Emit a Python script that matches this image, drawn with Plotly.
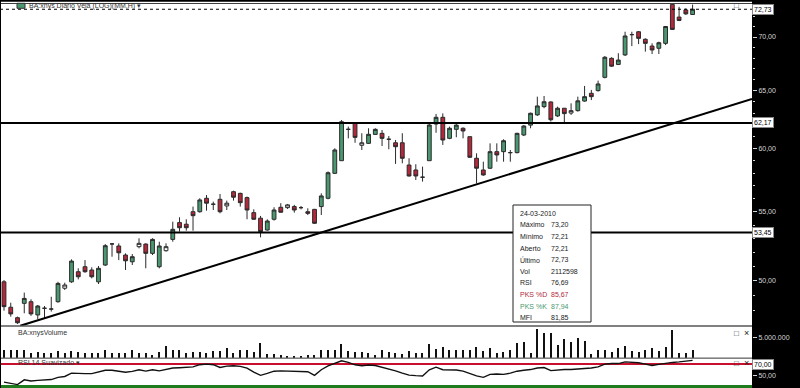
import math
import pandas as pd
import plotly.graph_objects as go

# ---------------- data ----------------
open_ = [49.94, 48.22, 47.53, 48.48, 48.59, 47.71, 48.15, 48.10, 48.59, 49.50,
         49.94, 50.64, 50.99, 50.76, 49.94, 51.11, 52.62, 52.47, 51.82, 51.34,
         52.42, 52.61, 51.94, 50.99, 52.13, 52.95, 54.19, 54.07, 55.01, 55.01,
         56.04, 55.58, 55.96, 55.45, 56.55, 56.42, 56.09, 54.94, 54.52, 53.64,
         54.44, 55.35, 55.32, 55.40, 55.32, 55.01, 55.19, 55.40, 56.04, 58.00,
         59.02, 61.63, 62.14, 60.29, 60.45, 61.20, 61.29, 60.79, 60.50, 60.50,
         58.67, 58.27, 57.69, 59.02, 62.08, 62.66, 60.87, 61.63, 61.72, 61.01,
         59.22, 58.27, 58.41, 59.76, 59.76, 59.68, 59.68, 61.15, 61.99, 62.87,
         63.59, 64.00, 62.78, 63.45, 63.03, 63.24, 64.08, 64.77, 65.01, 66.21,
         67.97, 67.40, 68.29, 70.23, 70.51, 69.78, 69.13, 68.92, 69.39, 73.22,
         71.95, 72.66, 72.21]
high = [50.06, 48.52, 47.60, 49.20, 48.75, 48.37, 48.30, 48.92, 49.94, 49.88,
        51.51, 50.88, 51.46, 50.95, 51.04, 52.61, 52.66, 52.66, 51.94, 51.89,
        53.03, 52.66, 53.03, 52.78, 52.66, 54.26, 54.59, 54.44, 55.40, 56.04,
        56.29, 55.78, 56.37, 55.86, 56.63, 56.47, 56.17, 55.19, 54.69, 54.44,
        55.35, 55.66, 55.60, 55.53, 55.45, 55.27, 55.22, 56.42, 58.15, 60.04,
        62.43, 61.86, 62.20, 61.30, 61.72, 61.72, 61.57, 61.06, 60.73, 61.30,
        59.22, 58.73, 58.54, 62.14, 62.95, 63.00, 61.86, 62.08, 61.80, 61.01,
        59.62, 58.94, 60.45, 60.45, 60.79, 59.90, 61.34, 61.99, 63.07, 64.47,
        64.53, 64.05, 63.59, 63.47, 63.88, 64.47, 65.43, 65.07, 65.91, 68.19,
        68.07, 68.45, 70.51, 70.51, 70.58, 69.87, 69.39, 69.55, 71.02, 73.25,
        72.97, 72.82, 73.20]
low = [47.99, 47.60, 47.12, 47.82, 47.65, 47.43, 47.50, 47.93, 48.52, 49.38,
       49.87, 50.11, 50.57, 50.18, 49.79, 51.04, 51.70, 51.46, 50.76, 51.11,
       52.30, 50.88, 51.82, 50.88, 52.06, 52.78, 53.52, 53.59, 53.59, 54.94,
       55.09, 55.14, 54.89, 55.14, 55.86, 55.40, 54.44, 54.39, 53.10, 53.59,
       54.34, 54.94, 55.22, 54.94, 55.19, 54.76, 54.09, 54.76, 55.96, 57.95,
       59.00, 60.87, 60.50, 59.90, 60.40, 61.15, 60.23, 59.96, 58.76, 58.81,
       57.74, 57.47, 57.34, 59.02, 61.34, 60.32, 60.80, 60.96, 60.87, 59.24,
       57.20, 57.81, 58.35, 58.94, 58.94, 58.94, 59.62, 61.06, 61.72, 62.78,
       63.45, 62.30, 62.69, 62.08, 62.87, 63.15, 64.02, 64.17, 64.92, 66.12,
       67.18, 67.34, 68.19, 69.13, 69.32, 68.60, 68.38, 68.38, 69.23, 70.68,
       71.55, 72.17, 72.21]
close = [48.26, 47.78, 47.20, 48.81, 47.78, 48.30, 48.15, 48.10, 49.83, 49.72,
         51.39, 50.29, 50.64, 50.29, 50.88, 52.49, 52.62, 51.98, 51.41, 51.70,
         52.66, 51.94, 52.95, 52.47, 52.42, 53.69, 53.81, 53.81, 54.71, 55.91,
         55.66, 55.58, 55.01, 55.66, 56.12, 55.70, 55.14, 54.44, 53.52, 54.31,
         55.14, 54.97, 55.53, 55.14, 55.32, 54.89, 54.14, 56.22, 58.05, 59.90,
         62.28, 61.63, 60.95, 60.50, 61.21, 61.63, 60.87, 60.79, 60.17, 59.22,
         57.79, 57.79, 57.69, 62.00, 62.66, 60.73, 61.72, 61.99, 61.49, 59.30,
         58.41, 57.87, 59.76, 59.49, 60.67, 59.68, 61.29, 61.91, 63.01, 63.65,
         64.02, 62.45, 63.45, 62.98, 63.24, 64.10, 64.47, 64.47, 65.61, 68.07,
         67.24, 67.81, 70.10, 70.23, 69.87, 69.39, 68.76, 69.45, 71.02, 70.74,
         71.62, 72.27, 72.73]
volume = [2150000, 2150000, 2150000, 2150000, 1400000, 1550000, 1400000, 1400000, 1700000, 1400000,
          1700000, 1550000, 1400000, 1400000, 1400000, 2000000, 1400000, 1400000, 1400000, 2200000,
          1300000, 1300000, 860000, 1550000, 3000000, 2000000, 2000000, 1400000, 1550000, 1550000,
          1400000, 1700000, 1700000, 2600000, 1400000, 2150000, 2150000, 1550000, 3950000, 1100000,
          1100000, 860000, 600000, 600000, 600000, 860000, 860000, 2000000, 2200000, 2200000,
          3500000, 1700000, 1550000, 1550000, 1400000, 860000, 2150000, 1550000, 1400000, 1100000,
          1700000, 1300000, 1300000, 3500000, 2400000, 2800000, 2100000, 2100000, 2000000, 2100000,
          2800000, 1800000, 2700000, 1400000, 1500000, 2100000, 3900000, 4000000, 1300000, 7300000,
          6300000, 6450000, 3300000, 4800000, 4100000, 5200000, 4400000, 1100000, 2200000, 2200000,
          1500000, 2700000, 3000000, 1700000, 1500000, 2200000, 2600000, 1800000, 2800000, 7100000,
          1300000, 1300000, 2112598]
rsi = [38, 35.5, 33.5, 42, 40, 41, 41.5, 42.5, 46.5, 48,
       54, 53, 53, 53, 55.5, 59, 59, 57.4, 55.5, 57,
       60, 57.5, 60, 58, 61, 63, 63.5, 64, 65, 69,
       70, 69, 64, 66.5, 67, 66, 63, 55.6, 50, 53.4,
       57.4, 58, 57.4, 57.4, 57.4, 56.5, 50, 60, 67, 72,
       76, 73, 68.8, 67, 68.5, 67.5, 64.2, 62, 58, 54,
       50.5, 49.5, 49, 60, 64.5, 60, 60, 59.5, 57.5, 53,
       49, 46.5, 51.7, 52.5, 51.7, 54, 57.4, 59, 60.3, 63,
       64, 58.5, 60, 60.3, 60.3, 61, 62, 63, 65, 70,
       71, 71, 74, 73.5, 72.5, 70, 67.5, 69.5, 71.5, 73,
       74, 74.7, 76.69]

levels = [62.17, 53.45]          # horizontal support / resistance lines
trend_x = [2.4, 110.8]           # rising trend line (bar index)
trend_y = [47.0, 64.26]          # rising trend line (price)
rsi_upper, rsi_lower = 70, 30
pks_d, pks_k, mfi = 85.67, 87.94, 81.85
price_ticks = [50, 55, 60, 65, 70]

N = len(close)
idx = list(range(N))
dates = pd.bdate_range(end="2010-03-24", periods=N)

# ---------------- layout helpers ----------------
W, H = 800, 388
def px(x): return x / W
def py(y): return 1 - y / H
def br(v): return f"{v:.2f}".replace(".", ",")

FONT = "Liberation Sans, Arial, sans-serif"
GREEN = "#4a9870"
RED = "#b3283b"
EDGE = "#2a2a2a"
TICK = "#d6d6d6"

XR = [-0.593, 110.8]

fig = go.Figure()

# candles split into visual groups
groups = {"up": [], "down": [], "hollow": [], "doji": []}
for i in idx:
    o, c = open_[i], close[i]
    if abs(c - o) < 1e-9:
        groups["doji"].append(i)
    elif c > o and c - o < 0.3:
        groups["hollow"].append(i)
    elif c > o:
        groups["up"].append(i)
    else:
        groups["down"].append(i)
styles = {"up": GREEN, "down": RED, "hollow": "#ffffff", "doji": "#111111"}
for key, fill in styles.items():
    sel = groups[key]
    fig.add_trace(go.Candlestick(
        x=sel, open=[open_[i] for i in sel], high=[high[i] for i in sel],
        low=[low[i] for i in sel], close=[close[i] for i in sel],
        text=[dates[i].strftime("%d-%m-%Y") for i in sel],
        increasing=dict(fillcolor=fill, line=dict(color=EDGE, width=1)),
        decreasing=dict(fillcolor=fill, line=dict(color=EDGE, width=1)),
        whiskerwidth=0, showlegend=False, xaxis="x", yaxis="y"))

# horizontal levels, trend line and last price dotted line
for lv in levels:
    fig.add_trace(go.Scatter(x=XR, y=[lv, lv], mode="lines", line=dict(color="#000", width=2),
                             showlegend=False, hoverinfo="skip", yaxis="y"))
fig.add_trace(go.Scatter(x=trend_x, y=trend_y, mode="lines", line=dict(color="#000", width=2),
                         showlegend=False, hoverinfo="skip", yaxis="y"))
fig.add_trace(go.Scatter(x=XR, y=[close[-1], close[-1]], mode="lines",
                         line=dict(color="#000", width=1, dash="dot"),
                         showlegend=False, hoverinfo="skip", yaxis="y"))

# volume
fig.add_trace(go.Bar(x=idx, y=volume, width=0.17, marker=dict(color="#111", line=dict(width=0)),
                     showlegend=False, yaxis="y2"))

# RSI
fig.add_trace(go.Scatter(x=XR, y=[rsi_upper] * 2, mode="lines", line=dict(color="#c8102e", width=2),
                         showlegend=False, hoverinfo="skip", yaxis="y3"))
fig.add_trace(go.Scatter(x=XR, y=[rsi_lower] * 2, mode="lines", line=dict(color="#1e7b1e", width=3),
                         showlegend=False, hoverinfo="skip", yaxis="y3"))
fig.add_trace(go.Scatter(x=idx, y=rsi, mode="lines", line=dict(color="#111", width=1.4),
                         showlegend=False, yaxis="y3"))

axis_common = dict(side="right", anchor="x", showgrid=False, zeroline=False, showline=False,
                   ticks="outside", tickcolor=TICK, ticklen=4, tickwidth=1,
                   tickfont=dict(family=FONT, size=7, color=TICK), fixedrange=True)

shapes = [
    dict(type="rect", xref="paper", yref="paper", x0=0, x1=px(752), y0=py(3.3), y1=py(1.7),
         fillcolor="#ffffff", line=dict(width=0), layer="below"),
    dict(type="line", xref="paper", yref="paper", x0=px(0.5), x1=px(0.5), y0=0, y1=1,
         line=dict(color="#000", width=1), layer="above"),
    # info box
    dict(type="rect", xref="paper", yref="paper", x0=px(513), x1=px(591), y0=py(322), y1=py(205),
         fillcolor="#ffffff", line=dict(color="#222", width=1), layer="above"),
    # title icon
    dict(type="rect", xref="paper", yref="paper", x0=px(17), x1=px(25), y0=py(8.3), y1=py(3.3),
         fillcolor=GREEN, line=dict(color="#333", width=1), layer="above"),
]

ann = []
def text(x, y, s, size=7, color="#333", xanchor="left", **kw):
    ann.append(dict(x=px(x), y=py(y), xref="paper", yref="paper", text=s, showarrow=False,
                    xanchor=xanchor, yanchor="middle", font=dict(family=FONT, size=size, color=color), **kw))

text(27, 5.8, "BA:xnys Diário Vela (LOG)(MM,H) ▾", size=7, color="#333")
text(16, 332.5, "BA:xnysVolume", size=7, color="#333")
text(16, 362.8, "RSI 14 Suavizado ▾", size=7, color="#333")
text(736, 5.5, "□", size=8, color="#333", xanchor="center")
for y in (333, 363):
    text(736, y, "□", size=8, color="#333", xanchor="center")
    text(746, y, "×", size=9, color="#222", xanchor="center")

# info box rows
rows = [(dates[-1].strftime("%d-%m-%Y"), "", "#222"),
        ("Máximo", br(high[-1]), "#222"), ("Mínimo", br(low[-1]), "#222"),
        ("Aberto", br(open_[-1]), "#222"), ("Último", br(close[-1]), "#222"),
        ("Vol", str(volume[-1]), "#222"), ("RSI", br(rsi[-1]), "#222"),
        ("PKS %D", br(pks_d), RED), ("PKS %K", br(pks_k), GREEN), ("MFI", br(mfi), "#222")]
for k, (lab, val, col) in enumerate(rows):
    y = 213.3 + 11.6 * k
    text(517.5, y, lab, size=7, color=col)
    if val:
        text(549, y, val, size=7, color=col)

# value boxes on the right axis
def valbox(yval, yref, s):
    ann.append(dict(x=px(752), y=yval, xref="paper", yref=yref, text=s, showarrow=False,
                    xanchor="left", yanchor="middle", bgcolor="#ffffff", bordercolor="#888",
                    borderwidth=1, borderpad=1, font=dict(family=FONT, size=7, color="#000")))
valbox(math.log10(close[-1]), "y", br(close[-1]))
for lv in levels:
    valbox(math.log10(lv), "y", br(lv))
valbox(rsi_upper, "y3", br(rsi_upper))

fig.update_layout(
    width=W, height=H, margin=dict(l=0, r=0, t=0, b=0),
    paper_bgcolor="#000000", plot_bgcolor="#ffffff",
    font=dict(family=FONT, size=7),
    boxgap=0.25, boxgroupgap=0.25, bargap=0,
    showlegend=False, hovermode="closest",
    xaxis=dict(domain=[0, px(752)], range=XR, visible=False, rangeslider=dict(visible=False),
               fixedrange=True),
    yaxis=dict(domain=[py(325.5), py(4)], type="log",
               range=[math.log10(47.02), math.log10(73.26)],
               tickvals=price_ticks, ticktext=[br(v) for v in price_ticks],
               minor=dict(tickvals=list(range(48, 74)), ticks="outside", ticklen=2, tickcolor=TICK),
               **axis_common),
    yaxis2=dict(domain=[py(357.7), py(326.5)], range=[0, 7.9e6],
                tickvals=[5e6], ticktext=["5.000.000"], **axis_common),
    yaxis3=dict(domain=[0, py(358.5)], range=[27.5, 80],
                tickvals=[50], ticktext=["50,00"], **axis_common),
    shapes=shapes, annotations=ann,
)

fig.write_html("out.html", config={"displayModeBar": False},
               post_script="document.body.style.margin='0px';document.body.style.overflow='hidden';")
